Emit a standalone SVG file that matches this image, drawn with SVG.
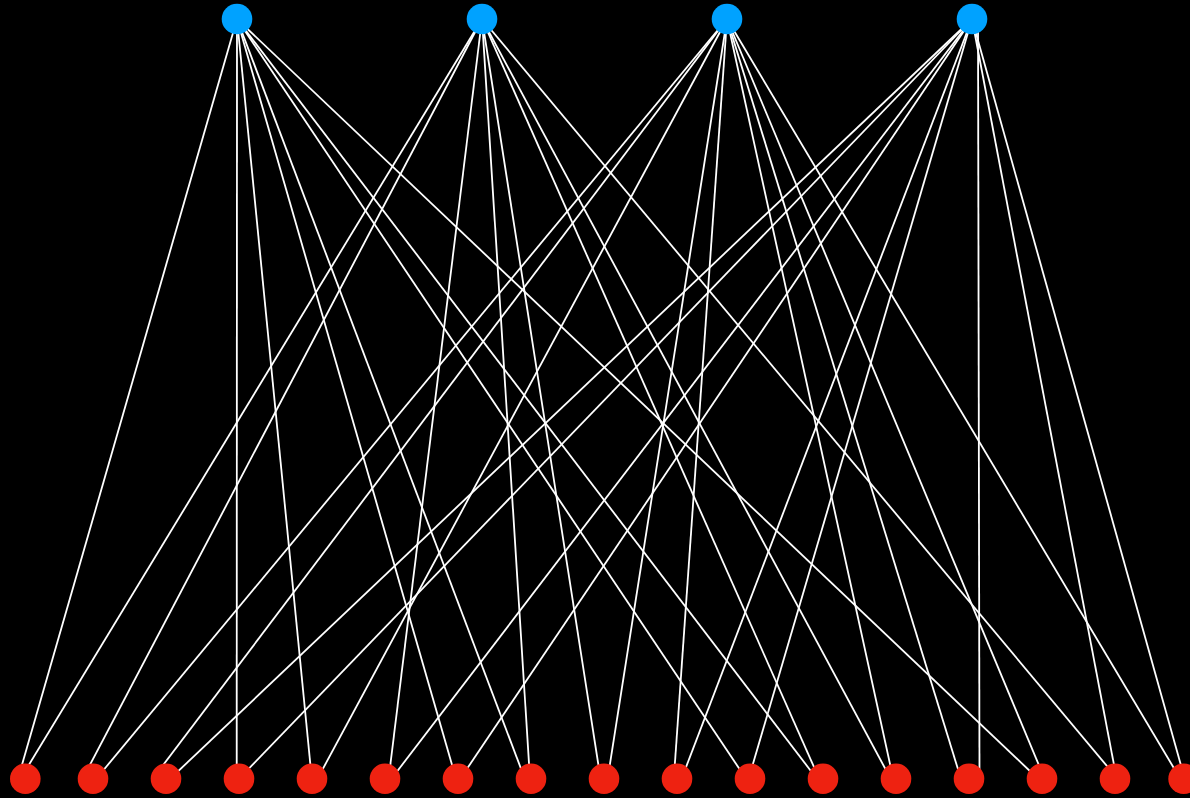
<svg xmlns="http://www.w3.org/2000/svg" width="1190" height="798" viewBox="0 0 1190 798">
<style>
.e{stroke:#ffffff;stroke-width:1.8;fill:none}
.t{fill:#00a2ff}
.b{fill:#ee2211}
</style>
<rect x="0" y="0" width="1190" height="798" fill="#000000"/>
<g id="connectors">
<line class="e" x1="237" y1="19" x2="17.9" y2="779"/>
<line class="e" x1="237" y1="19" x2="236.7" y2="779"/>
<line class="e" x1="237" y1="19" x2="311.8" y2="779"/>
<line class="e" x1="237" y1="19" x2="456.1" y2="779"/>
<line class="e" x1="237" y1="19" x2="524.9" y2="779"/>
<line class="e" x1="237" y1="19" x2="746.2" y2="779"/>
<line class="e" x1="237" y1="19" x2="817" y2="779"/>
<line class="e" x1="237" y1="19" x2="1038.3" y2="779"/>
<line class="e" x1="482" y1="19" x2="20.3" y2="779"/>
<line class="e" x1="482" y1="19" x2="82.5" y2="779"/>
<line class="e" x1="482" y1="19" x2="388.6" y2="779"/>
<line class="e" x1="482" y1="19" x2="530" y2="779"/>
<line class="e" x1="482" y1="19" x2="600.6" y2="779"/>
<line class="e" x1="482" y1="19" x2="819.3" y2="779"/>
<line class="e" x1="482" y1="19" x2="890.8" y2="779"/>
<line class="e" x1="482" y1="19" x2="1117.8" y2="779"/>
<line class="e" x1="727" y1="19" x2="96.1" y2="779"/>
<line class="e" x1="727" y1="19" x2="152.6" y2="779"/>
<line class="e" x1="727" y1="19" x2="317.4" y2="779"/>
<line class="e" x1="727" y1="19" x2="607.6" y2="779"/>
<line class="e" x1="727" y1="19" x2="673.8" y2="779"/>
<line class="e" x1="727" y1="19" x2="893.3" y2="779"/>
<line class="e" x1="727" y1="19" x2="961" y2="779"/>
<line class="e" x1="727" y1="19" x2="1044.7" y2="779"/>
<line class="e" x1="727" y1="19" x2="1180.4" y2="779"/>
<line class="e" x1="972" y1="19" x2="169.9" y2="779"/>
<line class="e" x1="972" y1="19" x2="238.8" y2="779"/>
<line class="e" x1="972" y1="19" x2="391.3" y2="779"/>
<line class="e" x1="972" y1="19" x2="460.1" y2="779"/>
<line class="e" x1="972" y1="19" x2="681.5" y2="779"/>
<line class="e" x1="972" y1="19" x2="748.5" y2="779"/>
<line class="e" x1="978" y1="19" x2="979.5" y2="779"/>
<line class="e" x1="972" y1="19" x2="1116.7" y2="779"/>
<line class="e" x1="972" y1="19" x2="1184.8" y2="779"/>
</g>
<g id="t1"><circle class="t" cx="237" cy="19" r="15.3"/></g>
<g id="t2"><circle class="t" cx="482" cy="19" r="15.3"/></g>
<g id="t3"><circle class="t" cx="727" cy="19" r="15.3"/></g>
<g id="t4"><circle class="t" cx="972" cy="19" r="15.3"/></g>
<g id="b1"><circle class="b" cx="25.3" cy="778.7" r="15.3"/></g>
<g id="b2"><circle class="b" cx="93" cy="778.7" r="15.3"/></g>
<g id="b3"><circle class="b" cx="166" cy="778.7" r="15.3"/></g>
<g id="b4"><circle class="b" cx="239" cy="778.7" r="15.3"/></g>
<g id="b5"><circle class="b" cx="312" cy="778.7" r="15.3"/></g>
<g id="b6"><circle class="b" cx="385" cy="778.7" r="15.3"/></g>
<g id="b7"><circle class="b" cx="458" cy="778.7" r="15.3"/></g>
<g id="b8"><circle class="b" cx="531" cy="778.7" r="15.3"/></g>
<g id="b9"><circle class="b" cx="604" cy="778.7" r="15.3"/></g>
<g id="b10"><circle class="b" cx="677" cy="778.7" r="15.3"/></g>
<g id="b11"><circle class="b" cx="750" cy="778.7" r="15.3"/></g>
<g id="b12"><circle class="b" cx="823" cy="778.7" r="15.3"/></g>
<g id="b13"><circle class="b" cx="896" cy="778.7" r="15.3"/></g>
<g id="b14"><circle class="b" cx="969" cy="778.7" r="15.3"/></g>
<g id="b15"><circle class="b" cx="1042" cy="778.7" r="15.3"/></g>
<g id="b16"><circle class="b" cx="1115" cy="778.7" r="15.3"/></g>
<g id="b17"><circle class="b" cx="1183.6" cy="778.7" r="15.3"/></g>
</svg>
